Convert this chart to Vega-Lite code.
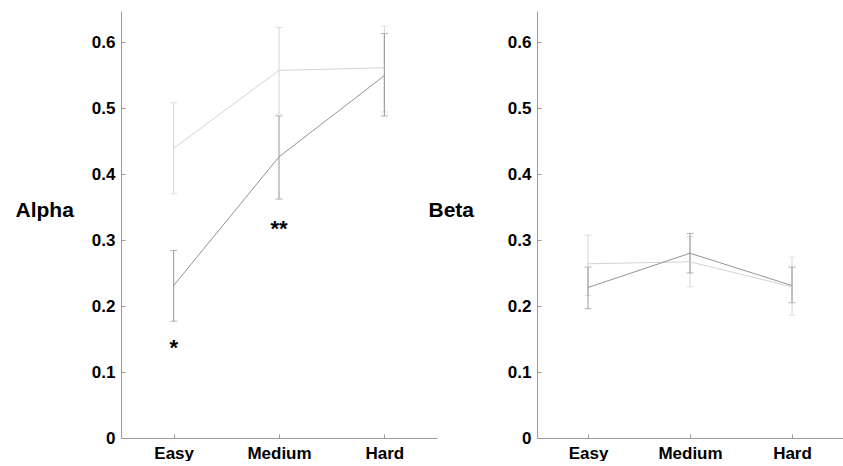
{
  "$schema": "https://vega.github.io/schema/vega-lite/v6.json",
  "background": "white",
  "padding": {"left": 15, "top": 11, "right": 0, "bottom": 0},
  "bounds": "flush",
  "spacing": 100,
  "config": {
    "view": {"stroke": null},
    "axis": {
      "domainColor": "#9a9a9a", "tickColor": "#9a9a9a", "tickSize": -4, "grid": false,
      "labelFont": "Liberation Sans", "labelFontWeight": "bold", "labelFontSize": 17, "labelColor": "#000",
      "titleFont": "Liberation Sans", "titleFontWeight": "bold", "titleFontSize": 21, "titleColor": "#000"
    }
  },
  "datasets": {
    "stats": [
      {"measure": "Alpha", "group": "light", "difficulty": "Easy", "mean": 0.439, "lo": 0.370, "hi": 0.508},
      {"measure": "Alpha", "group": "light", "difficulty": "Medium", "mean": 0.557, "lo": 0.491, "hi": 0.622},
      {"measure": "Alpha", "group": "light", "difficulty": "Hard", "mean": 0.561, "lo": 0.494, "hi": 0.624},
      {"measure": "Alpha", "group": "dark", "difficulty": "Easy", "mean": 0.231, "lo": 0.177, "hi": 0.284},
      {"measure": "Alpha", "group": "dark", "difficulty": "Medium", "mean": 0.426, "lo": 0.362, "hi": 0.488},
      {"measure": "Alpha", "group": "dark", "difficulty": "Hard", "mean": 0.549, "lo": 0.488, "hi": 0.613},
      {"measure": "Beta", "group": "light", "difficulty": "Easy", "mean": 0.264, "lo": 0.216, "hi": 0.307},
      {"measure": "Beta", "group": "light", "difficulty": "Medium", "mean": 0.267, "lo": 0.229, "hi": 0.305},
      {"measure": "Beta", "group": "light", "difficulty": "Hard", "mean": 0.229, "lo": 0.186, "hi": 0.274},
      {"measure": "Beta", "group": "dark", "difficulty": "Easy", "mean": 0.228, "lo": 0.196, "hi": 0.259},
      {"measure": "Beta", "group": "dark", "difficulty": "Medium", "mean": 0.280, "lo": 0.250, "hi": 0.310},
      {"measure": "Beta", "group": "dark", "difficulty": "Hard", "mean": 0.231, "lo": 0.205, "hi": 0.259}
    ],
    "stars": [
      {"difficulty": "Easy", "y": 0.137, "label": "*"},
      {"difficulty": "Medium", "y": 0.317, "label": "**"}
    ]
  },
  "hconcat": [
    {
      "width": 316, "height": 427,
      "encoding": {
        "x": {"field": "difficulty", "type": "ordinal", "sort": ["Easy", "Medium", "Hard"],
              "scale": {"type": "point", "padding": 0.5},
              "axis": {"title": null, "labelAngle": 0, "labelPadding": 11}}
      },
      "layer": [
        {
          "data": {"name": "stats"},
          "transform": [{"filter": "datum.measure == 'Alpha'"}],
          "mark": {"type": "errorbar", "ticks": {"size": 7}, "thickness": 1},
          "encoding": {
            "y": {"field": "lo", "type": "quantitative", "scale": {"domain": [0, 0.647], "nice": false},
                  "axis": {"title": "Alpha", "values": [0, 0.1, 0.2, 0.3, 0.4, 0.5, 0.6], "format": ".1~f", "labelPadding": 10,
                           "titleAngle": 0, "titleX": -106, "titleY": 199, "titleAlign": "left", "titleBaseline": "middle"}},
            "y2": {"field": "hi"},
            "color": {"field": "group", "type": "nominal", "scale": {"domain": ["light", "dark"], "range": ["#d4d4d4", "#949494"]}, "legend": null}
          }
        },
        {
          "data": {"name": "stats"},
          "transform": [{"filter": "datum.measure == 'Alpha'"}],
          "mark": {"type": "line", "strokeWidth": 1},
          "encoding": {
            "y": {"field": "mean", "type": "quantitative",
                  "axis": {"title": "Alpha", "values": [0, 0.1, 0.2, 0.3, 0.4, 0.5, 0.6], "format": ".1~f", "labelPadding": 10,
                           "titleAngle": 0, "titleX": -106, "titleY": 199, "titleAlign": "left", "titleBaseline": "middle"}},
            "color": {"field": "group", "type": "nominal", "legend": null}
          }
        },
        {
          "data": {"name": "stars"},
          "mark": {"type": "text", "font": "Liberation Sans", "fontWeight": "bold", "fontSize": 22, "baseline": "middle", "color": "#000"},
          "encoding": {
            "y": {"field": "y", "type": "quantitative"},
            "text": {"field": "label"}
          }
        }
      ]
    },
    {
      "width": 306, "height": 427,
      "encoding": {
        "x": {"field": "difficulty", "type": "ordinal", "sort": ["Easy", "Medium", "Hard"],
              "scale": {"type": "point", "padding": 0.5},
              "axis": {"title": null, "labelAngle": 0, "labelPadding": 11}}
      },
      "layer": [
        {
          "data": {"name": "stats"},
          "transform": [{"filter": "datum.measure == 'Beta'"}],
          "mark": {"type": "errorbar", "ticks": {"size": 7}, "thickness": 1},
          "encoding": {
            "y": {"field": "lo", "type": "quantitative", "scale": {"domain": [0, 0.647], "nice": false},
                  "axis": {"title": "Beta", "values": [0, 0.1, 0.2, 0.3, 0.4, 0.5, 0.6], "format": ".1~f", "labelPadding": 10,
                           "titleAngle": 0, "titleX": -109, "titleY": 199, "titleAlign": "left", "titleBaseline": "middle"}},
            "y2": {"field": "hi"},
            "color": {"field": "group", "type": "nominal", "scale": {"domain": ["light", "dark"], "range": ["#d4d4d4", "#949494"]}, "legend": null}
          }
        },
        {
          "data": {"name": "stats"},
          "transform": [{"filter": "datum.measure == 'Beta'"}],
          "mark": {"type": "line", "strokeWidth": 1},
          "encoding": {
            "y": {"field": "mean", "type": "quantitative",
                  "axis": {"title": "Beta", "values": [0, 0.1, 0.2, 0.3, 0.4, 0.5, 0.6], "format": ".1~f", "labelPadding": 10,
                           "titleAngle": 0, "titleX": -109, "titleY": 199, "titleAlign": "left", "titleBaseline": "middle"}},
            "color": {"field": "group", "type": "nominal", "legend": null}
          }
        }
      ]
    }
  ]
}
